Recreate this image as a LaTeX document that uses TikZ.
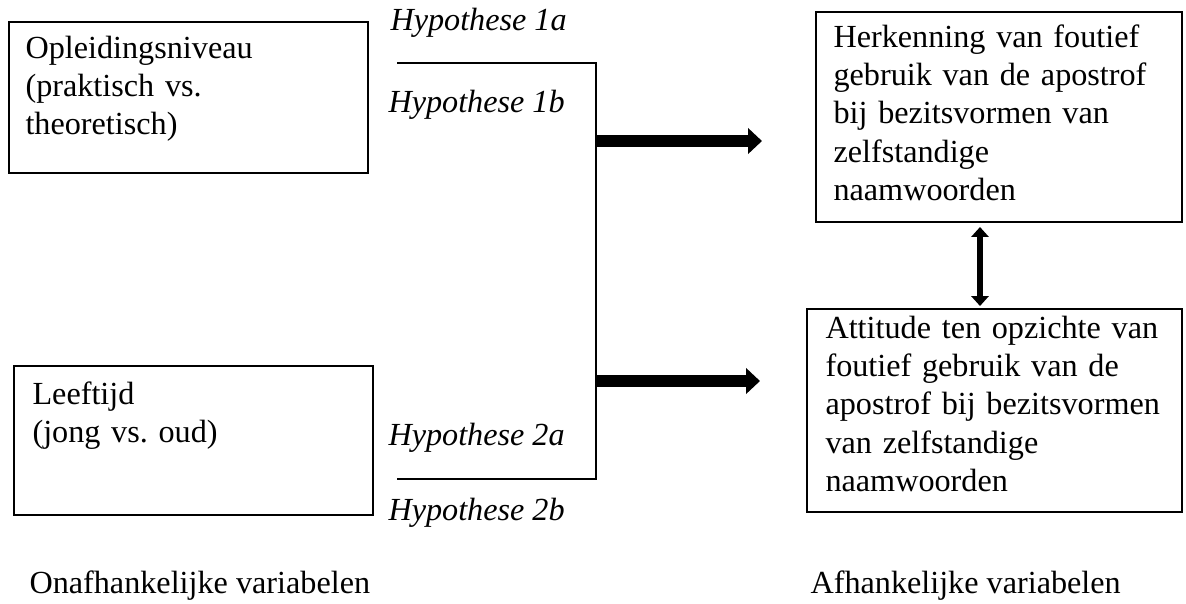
\documentclass[tikz,border=0pt]{standalone}
\usepackage{fontspec}
\setmainfont{Liberation Serif}
\frenchspacing
\usetikzlibrary{arrows.meta,fit}
\tikzset{
	box/.style = {
		draw,
		line width=0.55pt,
		inner sep=0pt
	},
	txt/.style = {
		anchor=base west,
		inner sep=0pt,
		align=left,
		text width=140pt,
		font=\fontsize{12}{14.3}\selectfont
	},
	hyp/.style = {
		anchor=base west,
		inner sep=0pt,
		font=\fontsize{12}{14.3}\selectfont\itshape
	},
	bracket/.style = {
		line width=1.1pt
	},
	bigarrow/.style = {
		line width=4.5pt,
		-{Triangle[length=5.2pt,width=9.4pt]}
	},
	twoway/.style = {
		line width=2.2pt,
		{Triangle[length=3.7pt,width=6.4pt]}-{Triangle[length=3.7pt,width=6.4pt]}
	}
}
\begin{document}
\begin{tikzpicture}[x=0.3727pt,y=-0.3727pt]
	\useasboundingbox (0,0) rectangle (1186,603);
	% onafhankelijke variabelen
	\node[box, fit={(9,22) (368,173)}] (niveau) {};
	\node[txt] (niveautxt) at (25,58) {Opleidingsniveau\\(praktisch vs.\\theoretisch)};
	\node[box, fit={(14,366) (373,515)}] (leeftijd) {};
	\node[txt] (leeftijdtxt) at (32,404) {Leeftijd\\(jong vs. oud)};
	% afhankelijke variabelen
	\node[box, fit={(816,12) (1182,222)}] (herkenning) {};
	\node[txt] (herkenningtxt) at (833,47) {Herkenning van foutief\\gebruik van de apostrof\\bij bezitsvormen van\\zelfstandige\\naamwoorden};
	\node[box, fit={(807,309) (1182,512)}] (attitude) {};
	\node[txt] (attitudetxt) at (825,338) {Attitude ten opzichte van\\foutief gebruik van de\\apostrof bij bezitsvormen\\van zelfstandige\\naamwoorden};
	% hypothesen
	\node[hyp] (h1a) at (390,30) {Hypothese 1a};
	\node[hyp] (h1b) at (388,112) {Hypothese 1b};
	\node[hyp] (h2a) at (388,445) {Hypothese 2a};
	\node[hyp] (h2b) at (388,520) {Hypothese 2b};
	% onderschriften
	\node[hyp, font=\fontsize{12}{14.3}\selectfont] (onafh) at (29,593) {Onafhankelijke variabelen};
	\node[hyp, font=\fontsize{12}{14.3}\selectfont] (afh) at (810,593) {Afhankelijke variabelen};
	% verbindingen
	\coordinate (top) at (397,63);
	\coordinate (topr) at (596,63);
	\coordinate (bot) at (397,479);
	\coordinate (botr) at (596,479);
	\coordinate (pijl1) at (596,141);
	\coordinate (pijl1e) at (762,141);
	\coordinate (pijl2) at (596,381);
	\coordinate (pijl2e) at (760,381);
	\coordinate (dub1) at (980,227);
	\coordinate (dub2) at (980,306);
	\draw[bracket] (top) -- (topr) -- (botr) -- (bot);
	\draw[bigarrow] (pijl1) -- (pijl1e);
	\draw[bigarrow] (pijl2) -- (pijl2e);
	\draw[twoway] (dub1) -- (dub2);
\end{tikzpicture}
\end{document}
